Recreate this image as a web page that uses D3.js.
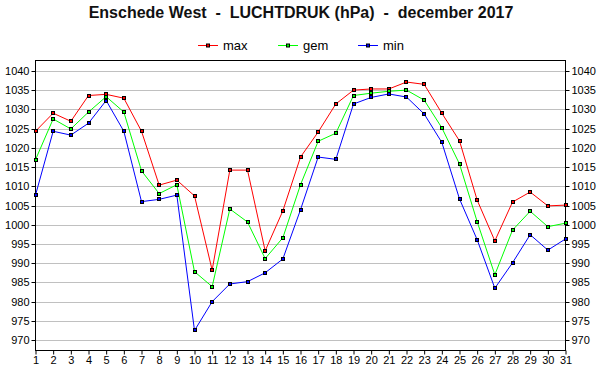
<!DOCTYPE html>
<html><head><meta charset="utf-8">
<script src="https://cdn.jsdelivr.net/npm/d3@7"></script>
<style>body{margin:0;background:#fff}svg{display:block}text{font-family:"Liberation Sans",Arial,sans-serif}</style>
</head><body><svg id="c" width="600" height="390"></svg>
<script>
const days = d3.range(1, 32);
const maxVals = [1024.3,1029.0,1026.9,1033.6,1033.9,1032.9,1024.3,1010.3,1011.6,1007.5,988.2,1014.2,1014.2,993.2,1003.6,1017.6,1024.1,1031.4,1035.0,1035.3,1035.3,1037.1,1036.5,1029.0,1021.8,1006.4,995.8,1005.9,1008.5,1004.9,1005.1];
const gemVals = [1016.9,1027.5,1024.9,1029.3,1033.3,1029.3,1014.0,1008.1,1010.4,987.8,983.9,1004.1,1000.7,991.2,996.6,1010.4,1021.7,1023.8,1033.6,1034.2,1034.7,1035.0,1032.4,1025.2,1015.8,1000.8,987.0,998.6,1003.5,999.5,1000.4];
const minVals = [1007.7,1024.3,1023.3,1026.4,1032.3,1024.3,1006.0,1006.6,1007.7,972.5,980.0,984.6,985.2,987.5,991.1,1003.9,1017.6,1017.0,1031.4,1033.1,1034.0,1033.2,1028.8,1021.4,1006.7,996.1,983.5,990.1,997.4,993.4,996.3];
const yTicks = d3.range(970, 1041, 5);
const seriesNames = ["max","gem","min"];
const seriesColors = ["#ff0000","#00ff00","#0000ff"];
const title = "Enschede West  -  LUCHTDRUK (hPa)  -  december 2017";

const svg = d3.select("#c");
const L = 35.5, R = 565.5, T = 60.5, B = 350.5;
const x = d3.scaleLinear().domain([1, 31]).range([L, R]);
const y = d3.scaleLinear().domain([967.3, 1042.7]).range([B, T]);

svg.append("text").attr("x", 301).attr("y", 18).attr("text-anchor", "middle")
  .attr("xml:space", "preserve").style("white-space", "pre")
  .attr("font-size", 16).attr("font-weight", "bold").attr("fill", "#111").text(title);

// grid
svg.append("g").selectAll("line").data(yTicks).join("line")
  .attr("x1", L).attr("x2", R).attr("y1", d => Math.round(y(d)) + 0.5).attr("y2", d => Math.round(y(d)) + 0.5)
  .attr("stroke", "#c0c0c0").attr("stroke-width", 1);

// axes
const fmt = d3.format("d");
const gl = svg.append("g").attr("transform", `translate(${L},0)`)
  .call(d3.axisLeft(y).tickValues(yTicks).tickSize(4).tickPadding(2).tickFormat(fmt));
const gr = svg.append("g").attr("transform", `translate(${R},0)`)
  .call(d3.axisRight(y).tickValues(yTicks).tickSize(4).tickPadding(2).tickFormat(fmt));
const gb = svg.append("g").attr("transform", `translate(0,${B})`)
  .call(d3.axisBottom(x).tickValues(days).tickSize(4).tickPadding(2).tickFormat(fmt));
[gl, gr, gb].forEach(g => {
  g.select(".domain").remove();
  g.selectAll("text").attr("font-size", 11).attr("fill", "#000").attr("font-family", "'Liberation Sans',Arial,sans-serif");
  g.selectAll("line").attr("stroke", "#000");
});
gl.selectAll(".tick").attr("transform", d => `translate(0,${Math.round(y(d)) + 0.5})`);
gr.selectAll(".tick").attr("transform", d => `translate(0,${Math.round(y(d)) + 0.5})`);
// frame
svg.append("rect").attr("x", L).attr("y", T).attr("width", R - L).attr("height", B - T)
  .attr("fill", "none").attr("stroke", "#000").attr("stroke-width", 1);

const allSeries = [maxVals, gemVals, minVals];
const line = d3.line().x((d, i) => x(days[i])).y(d => y(d));
allSeries.forEach((vals, k) => {
  svg.append("path").datum(vals).attr("d", line).attr("fill", "none")
    .attr("stroke", seriesColors[k]).attr("stroke-width", 1);
});
allSeries.forEach((vals, k) => {
  svg.append("g").selectAll("rect").data(vals).join("rect")
    .attr("x", (d, i) => Math.round(x(days[i])) - 1.5).attr("y", d => Math.round(y(d)) - 1.5)
    .attr("width", 3).attr("height", 3).attr("fill", seriesColors[k]).attr("stroke", "#000").attr("stroke-width", 1);
});

// legend
const legX = [198, 278, 358];
seriesNames.forEach((n, k) => {
  const g = svg.append("g");
  g.append("line").attr("x1", legX[k]).attr("x2", legX[k] + 20).attr("y1", 45.5).attr("y2", 45.5)
    .attr("stroke", seriesColors[k]);
  g.append("rect").attr("x", legX[k] + 8.5).attr("y", 44).attr("width", 3).attr("height", 3)
    .attr("fill", seriesColors[k]).attr("stroke", "#000");
  g.append("text").attr("x", legX[k] + 25).attr("y", 50).attr("font-size", 13).attr("fill", "#000").text(n);
});
</script></body></html>
